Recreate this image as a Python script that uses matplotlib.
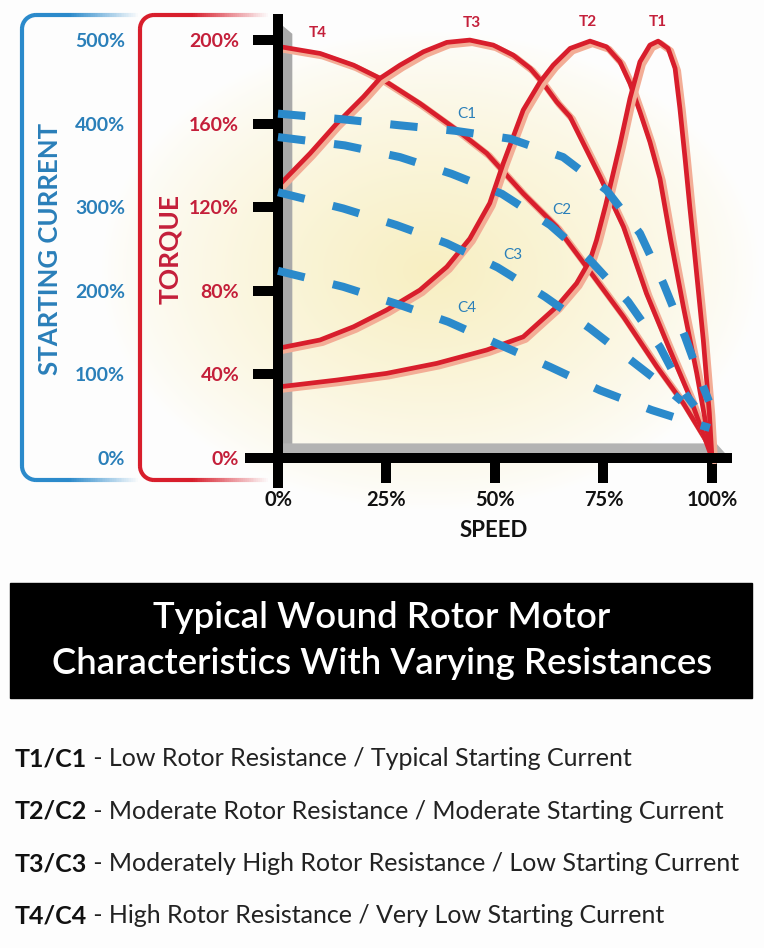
import matplotlib
matplotlib.use("Agg")
import numpy as np
import matplotlib.pyplot as plt
from matplotlib import patheffects as pe
from matplotlib.patches import Rectangle, Polygon, Arc
from matplotlib.collections import LineCollection
from matplotlib.ticker import FuncFormatter

# ---- data (speed %, torque %, current %) ----
speed_t1 = [0, 13.5, 25, 36.6, 48.1, 56.5, 64.2, 68.8, 71.9, 73.4, 75.5, 78.8, 81.1, 83.4, 85.7, 87.6,
            89.9, 91.5, 92.6, 93.8, 94.9, 95.9, 98, 99.4, 100]
torque_t1 = [34, 37.3, 40.5, 45.3, 51.7, 58, 72.4, 83.6, 94.7, 104.3, 121, 150, 172, 189.6, 197.6, 199.5,
             196, 186.5, 167.5, 143.4, 120, 100, 56.5, 21.5, 0]

speed_t2 = [0, 9.7, 17.4, 25, 32.7, 38.9, 44.2, 48.8, 51.9, 56.5, 60.4, 63.4, 67.3, 71.9, 75.7, 78.8,
            81.1, 83.4, 85.7, 88, 90.5, 93.4, 96.5, 100]
torque_t2 = [52.5, 56.5, 62.8, 70.8, 80.4, 91.5, 105, 122, 141, 166.5, 180, 188, 196, 199.5, 196.8, 189.6,
             179.3, 165.7, 151.3, 133.8, 104.3, 72.4, 40.5, 0]

speed_t3 = [0, 7.4, 13.5, 19.7, 23.5, 28.1, 33.5, 38.9, 44.2, 49.6, 54.2, 58.1, 61.1, 64.2, 67.3,
            74.2, 79.6, 84.9, 90.3, 94.9, 100]
torque_t3 = [130, 145.8, 160, 172.9, 181.7, 188, 194.4, 198.9, 200, 197.6, 192.8, 186.5, 179.3, 170.5, 163.3,
             134.6, 110.7, 78.8, 51.7, 29.3, 0]

speed_t4 = [0, 9.7, 17.4, 24.3, 32.7, 41.2, 48.1, 56.5, 64.2, 71.1, 79.6, 87.3, 93.4, 99.5, 100]
torque_t4 = [197, 193.6, 188, 180.9, 169.7, 157, 145.8, 126.6, 110.7, 91.5, 67.6, 43.7, 26.2, 5.4, 0]

speed_c1 = [0, 15.4, 28.1, 40.8, 53.5, 65.7, 75.7, 83.4, 88.8, 93.8, 98, 99.3]
current_c1 = [412, 405, 398, 391.5, 382, 360, 320.5, 268.8, 209, 145, 85, 68]

speed_c2 = [0, 15.4, 28.1, 40, 51.6, 62.7, 71.9, 80.7, 88, 93.4, 96]
current_c2 = [384, 374, 360, 340, 316, 278.7, 236.8, 187, 133, 80, 62]

speed_c3 = [0, 15, 27.3, 38.9, 50.6, 61.5, 71.9, 82.3, 88, 93]
current_c3 = [318, 298.6, 278.7, 256.8, 228, 193, 155, 113, 90, 68]

speed_c4 = [0, 15, 27, 39.2, 50.4, 62.7, 74.2, 86.1, 93, 99.5]
current_c4 = [224, 204.9, 185, 163, 137, 109, 81, 57.4, 46, 36]

speed_ticks = [0, 25, 50, 75, 100]
torque_ticks = [0, 40, 80, 120, 160, 200]
current_ticks = [0, 100, 200, 300, 400, 500]

legend_codes = ["T1/C1", "T2/C2", "T3/C3", "T4/C4"]
legend_desc = [" - Low Rotor Resistance / Typical Starting Current",
               " - Moderate Rotor Resistance / Moderate Starting Current",
               " - Moderately High Rotor Resistance / Low Starting Current",
               " - High Rotor Resistance / Very Low Starting Current"]

RED = "#d81e2c"
RED_TXT = "#c41f3a"
BLUE = "#2b8acb"
BLUE_TXT = "#2a7fb9"
RIBBON = "#f3ad96"

plt.rcParams["font.family"] = ["Lato", "DejaVu Sans"]

W, H = 764, 948
fig = plt.figure(figsize=(W / 100, H / 100), dpi=100)
fig.patch.set_facecolor("#fdfdfd")


def px_box(x0, y0, x1, y1):
    return [x0 / W, 1 - y1 / H, (x1 - x0) / W, (y1 - y0) / H]


# background layer in pixel coordinates
bg = fig.add_axes([0, 0, 1, 1], zorder=0)
yy, xx = np.mgrid[0:520, 0:W]
d = np.sqrt(((xx - 430) / 330.0) ** 2 + ((yy - 270) / 240.0) ** 2)
w = np.clip(1 - d, 0, 1) ** 0.8
c0 = np.array([0.995, 0.995, 0.995])
c1 = np.array(matplotlib.colors.to_rgb("#f8efc2"))
bg.imshow(c0 + (c1 - c0) * w[..., None], extent=(0, W, 520, 0), aspect="auto")
bg.set_xlim(0, W)
bg.set_ylim(H, 0)
bg.axis("off")


def bracket(x0, y0, y1, x_end, color, r=14, lw=3.0):
    bg.plot([x0, x0], [y0 + r, y1 - r], color=color, lw=lw, solid_capstyle="butt")
    bg.add_patch(Arc((x0 + r, y0 + r), 2 * r, 2 * r, theta1=180, theta2=270, color=color, lw=lw))
    bg.add_patch(Arc((x0 + r, y1 - r), 2 * r, 2 * r, theta1=90, theta2=180, color=color, lw=lw))
    xs = np.linspace(x0 + r, x_end, 60)
    alpha = np.clip((x_end - xs[:-1]) / ((x_end - x0) * 0.6), 0, 1)
    rgb = matplotlib.colors.to_rgb(color)
    for yv in (y0, y1):
        segs = [[(xs[i], yv), (xs[i + 1], yv)] for i in range(len(xs) - 1)]
        bg.add_collection(LineCollection(segs, colors=[(*rgb, a) for a in alpha], linewidths=lw))


bracket(22, 15, 480, 138, BLUE)
bracket(140, 15, 480, 268, RED)

# title block
bg.add_patch(Rectangle((10, 583), 742, 115, color="black"))
bg.text(382, 617, "Typical Wound Rotor Motor", color="white", fontsize=26.3,
        fontweight="semibold", ha="center", va="center")
bg.text(382, 663, "Characteristics With Varying Resistances", color="white", fontsize=26.3,
        fontweight="semibold", ha="center", va="center")

# legend lines
for i in range(len(legend_codes)):
    yrow = 759 + i * 52.3
    t = bg.text(15, yrow, legend_codes[i], fontsize=18, fontweight="bold", color="#111111",
                ha="left", va="center")
    bg.annotate(legend_desc[i], xy=(1, 0), xycoords=t, fontsize=18, color="#222222",
                ha="left", va="bottom")

# ---- main chart ----
ax = fig.add_axes(px_box(249.8, 15, 738, 483.1), zorder=2)
ax.patch.set_alpha(0)
ax.set_xlim(-6.5, 106)
ax.set_ylim(-12, 212)

for side in ("top", "right"):
    ax.spines[side].set_visible(False)
ax.spines["left"].set_position(("data", 0))
ax.spines["bottom"].set_position(("data", 0))
ax.spines["left"].set_bounds(-12, 210)
ax.spines["bottom"].set_bounds(-6.5, 103.5)
for side in ("left", "bottom"):
    ax.spines[side].set_linewidth(7.2)
    ax.spines[side].set_zorder(5)

# 3d shading along the axes
ax.add_patch(Polygon([(1, 0), (3.3, 0), (3.3, 203), (1, 207)], closed=True,
                     facecolor="#a9a9a9", edgecolor="none", zorder=1))
ax.add_patch(Polygon([(1, 1.2), (103.5, 1.2), (101, 7.0), (1, 7.0)], closed=True,
                     facecolor="#b3b3b3", edgecolor="none", zorder=1))

ax.set_xticks(speed_ticks)
ax.set_yticks(torque_ticks)
ax.xaxis.set_major_formatter(FuncFormatter(lambda v, p: f"{v:.0f}%"))
ax.yaxis.set_major_formatter(FuncFormatter(lambda v, p: f"{v:.0f}%"))
ax.tick_params(axis="both", direction="out", length=18, width=7.2, color="black")
ax.tick_params(axis="x", labelsize=14.5, pad=5, labelcolor="#111111")
ax.tick_params(axis="y", labelsize=14, pad=10, labelcolor=RED_TXT)
for lab in ax.get_xticklabels() + ax.get_yticklabels():
    lab.set_fontweight("bold")

ax.set_xlabel("SPEED", fontsize=16, fontweight="bold", color="#111111", labelpad=7)
ax.set_ylabel("TORQUE", fontsize=19, fontweight="bold", color=RED_TXT, labelpad=5)

ribbon = [pe.Stroke(offset=(1.8, -1.8), linewidth=5, foreground=RIBBON), pe.Normal()]
for sx, ty in ((speed_t4, torque_t4), (speed_t3, torque_t3), (speed_t2, torque_t2), (speed_t1, torque_t1)):
    ax.plot(sx, ty, color=RED, lw=3.4, solid_capstyle="round", solid_joinstyle="round",
            path_effects=ribbon, zorder=3)

for name, sx, sy in (("T4", 9.2, 203.2), ("T3", 44.6, 208), ("T2", 71.4, 208.7), ("T1", 87.6, 208.7)):
    ax.text(sx, sy, name, color=RED_TXT, fontsize=11, fontweight="bold", ha="center", va="center")

# current axis shares speed, scaled so 500% lines up with 200% torque
ax_c = ax.twinx()
ax_c.set_ylim(-30, 530)
for side in ax_c.spines:
    ax_c.spines[side].set_visible(False)
ax_c.yaxis.tick_left()
ax_c.yaxis.set_label_position("left")
ax_c.spines["left"].set_position(("axes", (125 - 249.8) / 488.2))
ax_c.set_yticks(current_ticks)
ax_c.yaxis.set_major_formatter(FuncFormatter(lambda v, p: f"{v:.0f}%"))
ax_c.tick_params(axis="y", length=0, pad=0, labelsize=14, labelcolor=BLUE_TXT)
for lab in ax_c.get_yticklabels():
    lab.set_fontweight("bold")
ax_c.set_ylabel("STARTING CURRENT", fontsize=18.5, fontweight="bold", color=BLUE_TXT, labelpad=9)

for sx, cy in ((speed_c1, current_c1), (speed_c2, current_c2), (speed_c3, current_c3), (speed_c4, current_c4)):
    ax_c.plot(sx, cy, color=BLUE, lw=5.8, dashes=(3.4, 3.6), dash_capstyle="butt", zorder=4)

for name, sx, sy in (("C1", 43.5, 411), ("C2", 65.4, 297), ("C3", 54.1, 243), ("C4", 43.5, 180)):
    ax_c.text(sx, sy, name, color=BLUE_TXT, fontsize=11, ha="center", va="center")

fig.savefig("out.png", dpi=100, facecolor=fig.get_facecolor())
